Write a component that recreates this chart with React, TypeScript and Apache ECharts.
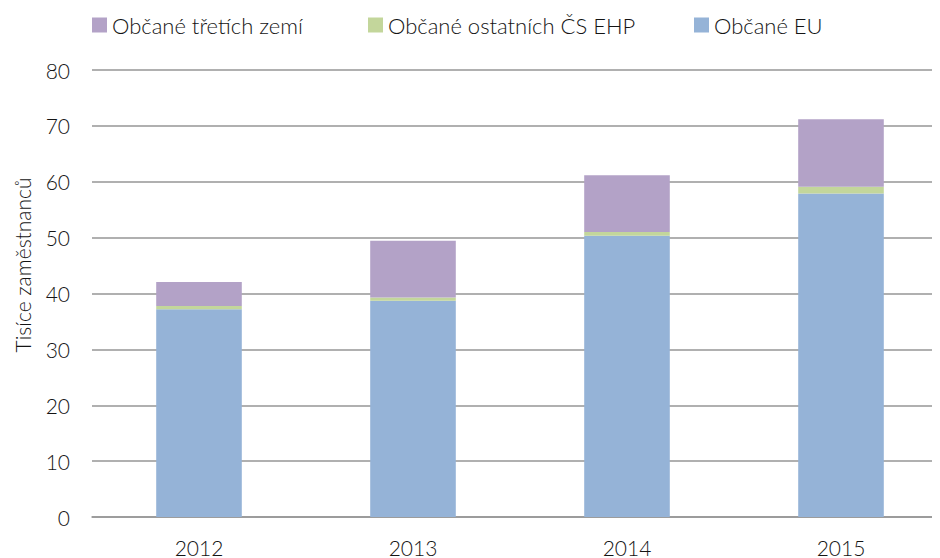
import React, { useEffect, useRef } from "react";
import * as echarts from "echarts";

const years = ["2012", "2013", "2014", "2015"];
const obcaneEU = [37.2, 38.7, 50.35, 57.9];
const obcaneEHP = [0.55, 0.6, 0.65, 1.2];
const obcaneTreti = [4.3, 10.15, 10.15, 12.1];
const seriesNames = ["Občané EU", "Občané ostatních ČS EHP", "Občané třetích zemí"];
const colors = ["#95B3D7", "#C3D69B", "#B3A2C7"];
const yTicks = { min: 0, max: 80, interval: 10 };
const yTitle = "Tisíce zaměstnanců";

const FONT = "Lato";
const TEXT = "#141414";

export default function App() {
  const ref = useRef<HTMLDivElement>(null);
  useEffect(() => {
    const chart = echarts.init(ref.current!, null, { renderer: "svg" });
    const data = [obcaneEU, obcaneEHP, obcaneTreti];
    const legendPos = [
      { name: seriesNames[2], left: 84 },
      { name: seriesNames[1], left: 360 },
      { name: seriesNames[0], left: 686 },
    ];
    chart.setOption({
      animation: false,
      textStyle: { fontFamily: FONT },
      legend: legendPos.map((l) => ({
        data: [l.name],
        left: l.left,
        top: 6,
        itemWidth: 15,
        itemHeight: 15,
        itemGap: 0,
        icon: "rect",
        textStyle: { fontSize: 22, color: TEXT, fontFamily: FONT, fontWeight: 300 },
        padding: 0,
      })),
      grid: { left: 84, right: -4, top: 62, bottom: 49, containLabel: false },
      xAxis: {
        type: "category",
        data: years,
        axisTick: { show: false },
        axisLine: { show: true, lineStyle: { color: "#969696", width: 1.5 } },
        axisLabel: { fontSize: 21, lineHeight: 18, color: TEXT, margin: 21, fontFamily: FONT, fontWeight: 300 },
      },
      yAxis: {
        type: "value",
        min: yTicks.min,
        max: yTicks.max,
        interval: yTicks.interval,
        axisLine: { show: false },
        axisTick: { show: false },
        splitLine: { lineStyle: { color: "#969696", width: 1.5 } },
        axisLabel: { fontSize: 21, color: TEXT, margin: 22, fontFamily: FONT, fontWeight: 300 },
      },
      graphic: [
        {
          type: "text",
          x: 14,
          y: 257,
          rotation: Math.PI / 2,
          style: {
            text: yTitle,
            fontSize: 21,
            fill: TEXT,
            fontFamily: FONT,
            fontWeight: 300,
            align: "center",
            verticalAlign: "middle",
          },
        },
      ],
      series: data.map((d, i) => ({
        name: seriesNames[i],
        type: "bar",
        stack: "total",
        barWidth: "40%",
        data: d,
        itemStyle: { color: colors[i] },
      })),
    });
    return () => chart.dispose();
  }, []);
  return <div ref={ref} style={{ width: 940, height: 558 }} />;
}
